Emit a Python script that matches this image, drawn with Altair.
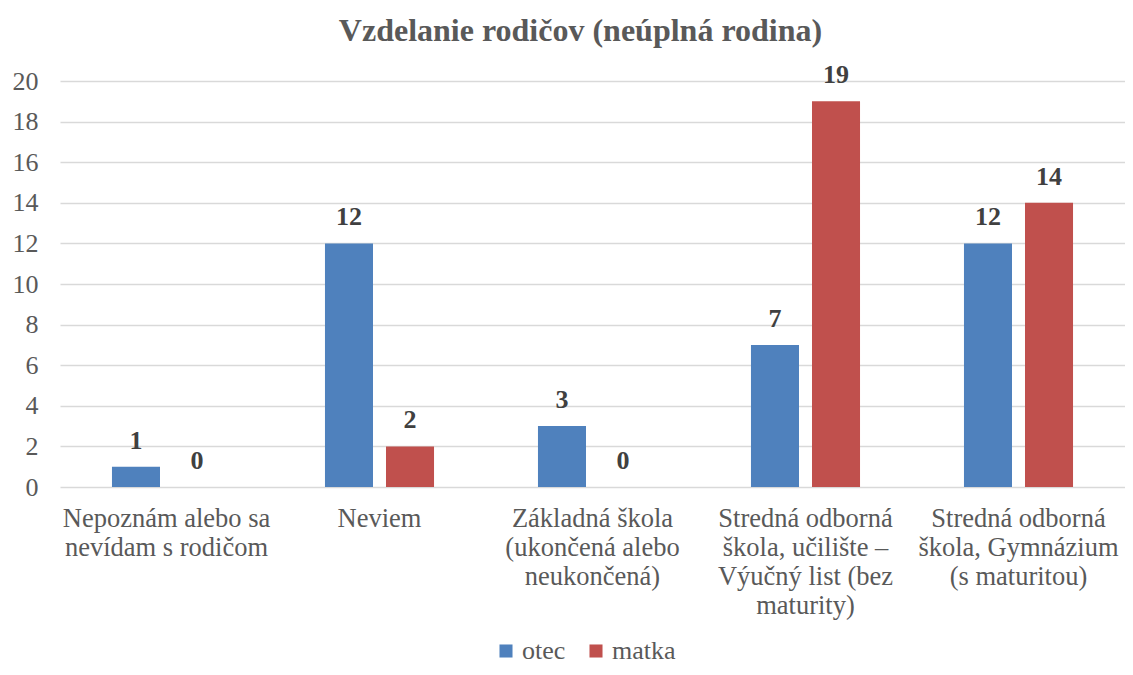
import altair as alt
import pandas as pd

categories = [
    "Nepoznám alebo sa|nevídam s rodičom",
    "Neviem",
    "Základná škola|(ukončená alebo|neukončená)",
    "Stredná odborná|škola, učilište –|Výučný list (bez|maturity)",
    "Stredná odborná|škola, Gymnázium|(s maturitou)",
]
series = ["otec", "matka"]
otec = [1, 12, 3, 7, 12]
matka = [0, 2, 0, 19, 14]
colors = ["#4F81BD", "#C0504D"]
y_ticks = [0, 2, 4, 6, 8, 10, 12, 14, 16, 18, 20]

rows = []
for c, o, m in zip(categories, otec, matka):
    rows.append({"kat": c, "rodic": "otec", "pocet": o})
    rows.append({"kat": c, "rodic": "matka", "pocet": m})
df = pd.DataFrame(rows)

FONT = "Liberation Serif"
GREY = "#595959"
FS = 26

x = alt.X(
    "kat:N",
    sort=categories,
    title=None,
    scale=alt.Scale(paddingInner=0.488, paddingOuter=0.244),
    axis=alt.Axis(
        labelExpr="split(datum.label, '|')",
        labelAngle=0,
        labelFont=FONT,
        labelFontSize=26.5,
        labelColor=GREY,
        labelLineHeight=29,
        labelPadding=18,
        labelBaseline="top",
        domain=False,
        ticks=False,
        labelLimit=400,
    ),
)
xo = alt.XOffset("rodic:N", sort=series, scale=alt.Scale(paddingInner=0.213, paddingOuter=0))
y = alt.Y(
    "pocet:Q",
    title=None,
    scale=alt.Scale(domain=[0, 20], nice=False),
    axis=alt.Axis(
        values=y_ticks,
        labelFont=FONT,
        labelFontSize=FS,
        labelColor=GREY,
        labelPadding=22,
        domain=False,
        ticks=False,
        gridColor="#D9D9D9",
        gridWidth=1.3,
    ),
)
color = alt.Color(
    "rodic:N",
    sort=series,
    scale=alt.Scale(domain=series, range=colors),
    legend=alt.Legend(
        title=None,
        orient="none",
        direction="horizontal",
        legendX=433,
        legendY=557,
        symbolType="square",
        symbolSize=170,
        symbolStrokeWidth=0,
        labelFont=FONT,
        labelFontSize=FS,
        labelColor=GREY,
        columnPadding=17,
        labelOffset=3,
    ),
)

bars = alt.Chart(df).mark_bar().encode(x=x, xOffset=xo, y=y, color=color)
labels = alt.Chart(df).mark_text(
    baseline="bottom", dy=-13, font=FONT, fontSize=FS, fontWeight="bold", color="#404040"
).encode(x=x, xOffset=xo, y=y, text="pocet:Q")

chart = (
    alt.layer(bars, labels)
    .properties(
        width=1065,
        height=406,
        title=alt.TitleParams(
            "Vzdelanie rodičov (neúplná rodina)",
            font=FONT,
            fontSize=32,
            fontWeight="bold",
            color=GREY,
            offset=14,
            dx=-12,
        ),
        autosize=alt.AutoSizeParams(type="none"),
        padding={"left": 52, "top": 73, "right": 0, "bottom": 180},
    )
    .configure(font=FONT)
    .configure_view(stroke=None)
)

chart.save("out.html", embed_options={"renderer": "svg", "actions": False})
